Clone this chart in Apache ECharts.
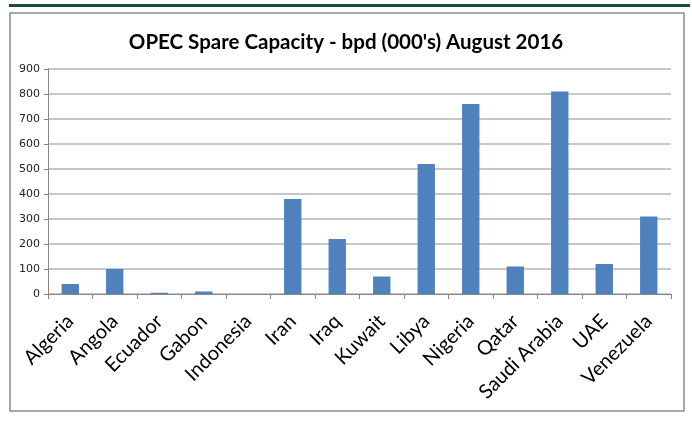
<!DOCTYPE html>
<html>
<head>
<meta charset="utf-8">
<script src="https://cdn.jsdelivr.net/npm/echarts@6/dist/echarts.min.js"></script>
<style>
  html, body { margin: 0; padding: 0; background: #fff; }
  #chart { width: 692px; height: 421px; }
</style>
</head>
<body>
<div id="chart"></div>
<script>
const countries = ['Algeria', 'Angola', 'Ecuador', 'Gabon', 'Indonesia', 'Iran', 'Iraq', 'Kuwait', 'Libya', 'Nigeria', 'Qatar', 'Saudi Arabia', 'UAE', 'Venezuela']
const spareCapacity = [40, 100, 5, 10, 0, 380, 220, 70, 520, 760, 110, 810, 120, 310]
const yTicks = [0, 100, 200, 300, 400, 500, 600, 700, 800, 900]

const chart = echarts.init(document.getElementById('chart'))
chart.setOption({
  animation: false,
  title: {
    text: "OPEC Spare Capacity - bpd (000's) August 2016",
    left: 'center',
    top: 27,
    textStyle: { fontFamily: 'Lato', fontWeight: 'bold', fontSize: 20.5, color: '#000' }
  },
  graphic: [
    // dark green rule across the top
    { type: 'rect', shape: { x: 9, y: 4, width: 681, height: 3 }, style: { fill: '#1e4a3a' }, silent: true },
    // chart frame
    { type: 'rect', shape: { x: 10, y: 13, width: 674, height: 398 }, style: { fill: 'none', stroke: '#8c8c8c', lineWidth: 1.5 }, silent: true }
  ],
  grid: { left: 48, right: 21, top: 69, bottom: 127, containLabel: false },
  xAxis: {
    type: 'category',
    data: countries,
    boundaryGap: true,
    axisLine: { lineStyle: { color: '#868686', width: 1 } },
    axisTick: { show: true, length: 5, alignWithLabel: false, lineStyle: { color: '#868686' } },
    axisLabel: {
      interval: 0,
      rotate: 45,
      margin: 24,
      fontFamily: 'Lato',
      fontSize: 20,
      color: '#000'
    }
  },
  yAxis: {
    type: 'value',
    min: yTicks[0],
    max: yTicks[yTicks.length - 1],
    interval: 100,
    axisLine: { show: true, lineStyle: { color: '#868686', width: 1 } },
    axisTick: { show: true, length: 4, lineStyle: { color: '#868686' } },
    axisLabel: { margin: 8, fontFamily: 'Verdana, DejaVu Sans', fontSize: 11, color: '#222' },
    splitLine: { lineStyle: { color: '#b4b4b4', width: 1.5 } }
  },
  series: [{
    type: 'bar',
    data: spareCapacity,
    barWidth: '39%',
    itemStyle: { color: '#4f81bd' }
  }]
})
</script>
</body>
</html>
